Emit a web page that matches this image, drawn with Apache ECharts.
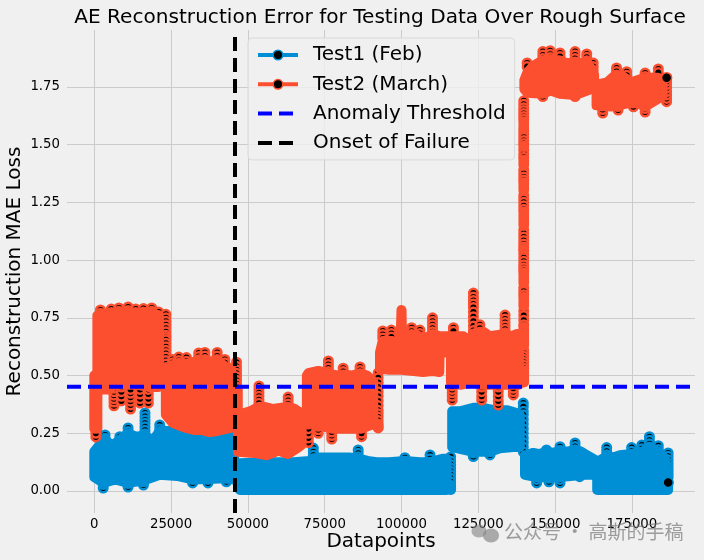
<!DOCTYPE html>
<html><head><meta charset="utf-8">
<style>html,body{margin:0;padding:0;background:#f0f0f0}#c{width:704px;height:560px}</style>
<script src="https://cdn.jsdelivr.net/npm/echarts@6/dist/echarts.min.js"></script>
</head><body><div id="c"></div>
<script>
const titleText = 'AE Reconstruction Error for Testing Data Over Rough Surface';
const xName = 'Datapoints', yName = 'Reconstruction MAE Loss';
const xTicks = [0,25000,50000,75000,100000,125000,150000,175000];
const yTicks = [0,0.25,0.5,0.75,1,1.25,1.5,1.75];
const threshold = 0.4517, onset = 45800;
const test1End = [186800,0.037], test2End = [186300,1.79];

// Solid part of each error band, [x, value]; null starts a new block
const test1Top = [[0,.17],[1800,.2],[3500,.225],[5600,.195],[8300,.22],[11000,.25],[13600,.235],[16500,.24],[19000,.215],[21300,.26],[25000,.26],[35000,.26],[45500,.26],null,
 [47400,.12],[55000,.125],[65000,.125],[70000,.13],[71300,.14],[73000,.145],[79000,.145],[83000,.145],[85900,.14],[89000,.13],[91900,.125],[96000,.125],[101100,.13],[106000,.125],[109300,.125],[113600,.14],[114700,.14],null,
 [115900,.02],[116100,.02],null,
 [116500,.345],[119000,.345],[123380,.36],[126600,.36],[130000,.35],[134200,.35],[137000,.34],[138500,.33],null,
 [140200,.155],[142900,.165],[145000,.16],[147200,.17],[149500,.165],[151600,.175],[154000,.17],[156500,.18],[158500,.17],[160300,.155],[163000,.135],null,
 [163700,.125],[166800,.15],[169000,.145],[171100,.155],[174900,.16],[178200,.17],[180700,.185],[183600,.17],[185800,.14],[186800,.02]];
const test1Bottom = [[0,.06],[2900,.035],[6800,.05],[11000,.035],[16000,.045],[21300,.07],[27000,.065],[32000,.05],[43000,.055],[45500,.05],null,
 [47400,.004],[114700,.004],null,
 [115900,.004],[116100,.004],null,
 [116500,.19],[123380,.17],[128800,.17],[132000,.185],[136400,.19],[138500,.19],null,
 [140200,.07],[144000,.06],[151600,.06],[159200,.07],[163000,.07],null,
 [163700,.004],[186800,.004]];
const test2Top = [[0,.5],[1000,.5],null,
 [1000,.76],[2500,.765],[5500,.77],[8000,.775],[11000,.775],[13500,.77],[16000,.77],[18700,.775],[21000,.755],null,
 [23300,.53],[25500,.545],[27500,.555],[30000,.55],[32500,.56],[34000,.565],[36000,.565],[38000,.56],[40000,.565],[42500,.54],[44500,.53],[45000,.44],[46700,.44],null,
 [46780,.33],[50700,.345],[53600,.365],[55000,.365],[58300,.355],[60450,.36],[63100,.365],[65300,.355],[67500,.335],null,
 [69200,.5],[69700,.51],[72900,.52],[76200,.51],[78900,.5],[81000,.505],[83800,.5],[86500,.51],[88700,.5],[90800,.475],null,
 [92300,.285],[92500,.285],null,
 [93000,.6],[93900,.65],[96700,.65],[98400,.645],[99700,.65],[100000,.784],[100200,.65],[103300,.68],[106000,.67],[107600,.66],[110100,.68],[112500,.67],[116100,.67],null,
 [116100,.665],[116900,.67],[118500,.67],[120100,.67],[121750,.65],[123400,.68],[125500,.69],[126600,.69],[128800,.67],[131000,.675],[133700,.68],[135850,.67],[137500,.68],[138200,.68],null,
 [139700,1.6],[139900,1.6],null,[139700,1.495],[139900,1.495],null,[139700,1.435],[139900,1.435],null,[139700,1.337],[139900,1.337],null,[139700,1.21],[139900,1.21],null,
 [139700,1.048],[139900,1.048],null,[139700,.945],[139900,.945],null,[139700,.84],[139900,.84],null,[139700,.71],[139900,.71],null,[139700,.522],[139900,.522],null,
 [140000,1.78],[140900,1.81],[142800,1.84],[146000,1.865],[148400,1.87],[151600,1.865],[154300,1.85],[156500,1.86],[158600,1.85],[160300,1.86],[162400,1.81],[162700,1.8],null,
 [163500,1.76],[167000,1.77],[169500,1.8],[172000,1.795],[175000,1.77],[178000,1.785],[181000,1.79],[183500,1.79],[185000,1.76]];
const test2Bottom = [[0,.27],[1000,.27],null,
 [1000,.44],[5000,.44],[6500,.46],[11000,.46],[14000,.46],[18000,.45],[20000,.45],[21000,.45],null,
 [23300,.33],[25500,.295],[27500,.285],[30000,.273],[32500,.264],[35000,.264],[37500,.255],[40000,.26],[42500,.268],[44500,.273],[46700,.35],null,
 [46780,.17],[52000,.165],[56000,.155],[60000,.175],[63000,.16],[66000,.185],[67500,.2],null,
 [69200,.3],[72900,.285],[77300,.27],[82000,.27],[87000,.27],[90800,.29],null,
 [92300,.275],[92500,.275],null,
 [93000,.53],[96000,.525],[100000,.525],[104000,.52],[107000,.515],[110000,.52],[112300,.515],[112400,.6],[116100,.6],null,
 [116100,.47],[119000,.46],[123000,.47],[126000,.46],[131000,.46],[136000,.46],[138200,.46],null,
 [139700,1.57],[139900,1.57],null,[139700,1.49],[139900,1.49],null,[139700,1.41],[139900,1.41],null,[139700,1.3],[139900,1.3],null,[139700,1.15],[139900,1.15],null,
 [139700,1.047],[139900,1.047],null,[139700,.9],[139900,.9],null,[139700,.8],[139900,.8],null,[139700,.63],[139900,.63],null,[139700,.47],[139900,.47],null,
 [140000,1.74],[141000,1.725],[146000,1.72],[148400,1.735],[151600,1.72],[156500,1.715],[161500,1.74],[162700,1.74],null,
 [163500,1.67],[168000,1.665],[172000,1.675],[176000,1.685],[179300,1.665],[183000,1.695],[185000,1.71]];

// Readable runs of points at the rims of the bands, [x, [values in drawing order]]
const test1Runs = [[2900,[.013,.028]],[3500,[.243,.228,.213]],[8300,[.235,.22,.205]],[11000,[.017,.032]],[11000,[.273,.258,.243]],
 [16000,[.026,.04]],[16500,[.338,.323,.308,.293,.278,.263,.248,.233]],[21300,[.286,.27,.255]],[32000,[.035,.05]],[37000,[.035,.05]],[43000,[.04,.055]],
 [71300,[.186,.17,.155,.14]],[85900,[.178,.163,.148,.133]],[101100,[.144,.13]],[109300,[.156,.14,.125]],
 [116000,[.148,.13,.115,.1,.085,.07,.055,.04,.025,.01]],[123380,[.149,.165]],[128800,[.156,.17]],[139650,[.381,.365,.345,.33,.31,.29,.27,.25,.23,.21,.19,.17]],
 [144000,[.035,.05]],[147200,[.178,.163,.148]],[148000,[.04,.055]],[151600,[.035,.05]],[151600,[.192,.177,.162,.147]],[156500,[.208,.193,.178,.163,.148]],[158000,[.062,.078]],
 [166800,[.188,.172,.157,.142,.127]],[174900,[.188,.172,.157,.142]],[178200,[.199,.183,.168,.153]],[180700,[.235,.22,.205,.19,.175,.16,.145]],[183600,[.196,.18,.165,.15]],
 [186800,[.165,.15,.135,.12,.105,.09,.075,.06]]];
const test2Runs = [[500,[.5,.49,.47]],[500,[.234,.25]],[2000,[.784,.77]],[5500,[.788,.773]],[6400,[.369,.385,.4,.415,.43,.445]],[8000,[.793,.778]],[8800,[.39,.41,.43,.45]],[11000,[.797,.782]],[11800,[.355,.372,.389,.406,.423,.44]],
 [13500,[.788,.773]],[14900,[.381,.4,.42,.44]],[16000,[.79,.775]],[17600,[.381,.4,.42,.44]],[18700,[.793,.778]],[21000,[.775,.76]],
 [23300,[.765,.75,.735,.72,.705,.69,.675,.665,.655,.64,.625,.61,.595,.58,.565,.55,.535]],[25500,[.57,.555]],[27500,[.58,.565]],[30000,[.578,.562]],[34000,[.598,.583,.568]],[36000,[.6,.585,.57]],[40000,[.6,.585,.57]],[42500,[.57,.555]],
 [46300,[.558,.54,.525,.51,.495,.48,.465,.45]],[53600,[.455,.44,.425,.41,.395,.38]],[63100,[.407,.392,.377]],[69700,[.21,.23,.25,.27,.29,.31]],[72900,[.25,.265,.28]],[76200,[.563,.548,.533,.518,.503]],[77300,[.225,.24,.255]],
 [81000,[.532,.517]],[86500,[.537,.522,.507]],[87000,[.235,.25]],[92400,[.511,.49,.47,.45,.43,.41,.39,.37,.35,.335,.32,.305,.29,.273]],
 [93900,[.693,.678,.663]],[96700,[.697,.682,.667]],[103300,[.707,.692]],[106000,[.697,.682]],[110100,[.75,.735,.72,.705,.69,.675]],
 [116500,[.394,.41,.425,.44,.455]],[116900,[.707,.692]],[123400,[.857,.84,.825,.81,.795,.775,.755,.735,.715,.695,.68]],[125500,[.72,.705]],[126100,[.394,.41,.43,.45]],[131500,[.372,.39,.41,.43,.45]],[133700,[.762,.745,.73,.715,.7,.685]],[136400,[.416,.43,.445]],
 [139800,[1.69,1.675,1.66,1.648,1.635,1.622,1.61]],[139800,[1.56,1.546,1.532,1.518,1.505]],[139800,[1.477,1.46,1.445]],[139800,[1.39,1.375,1.36,1.347]],[139800,[1.28,1.265,1.25,1.235,1.22]],
 [139800,[1.13,1.115,1.1,1.085,1.07,1.057]],[139800,[1.04,1.025,1.01,.995,.98,.967,.955]],[139800,[.88,.865,.85]],[139800,[.78,.76,.74,.72]],[139800,[.61,.597,.584,.571,.558,.545,.532]],
 [140900,[1.854,1.838]],[146000,[1.903,1.888,1.873]],[146000,[1.708,1.725]],[148400,[1.907,1.892,1.877]],[151600,[1.897,1.882]],[156500,[1.903,1.888,1.873]],[156500,[1.708,1.725]],[160300,[1.893,1.878,1.863]],[162400,[1.854,1.838,1.822,1.806]],
 [165500,[1.637,1.652,1.667]],[170000,[1.832,1.817,1.802]],[170500,[1.65,1.665]],[173300,[1.816,1.8]],[175500,[1.664,1.68]],[179300,[1.81,1.795]],[179300,[1.641,1.656,1.671]],[183600,[1.828,1.812]],
 [186300,[1.686,1.7,1.715,1.73,1.745,1.76,1.775]]];

const blue = '#008fd5', red = '#fc4f30', bg = '#f0f0f0', gridCol = '#cbcbcb';
const fam = '"DejaVu Sans"';
const xMin = -8887, xMax = 195540, yMin = -0.0953, yMax = 1.9965;

function points(runs){ const out=[]; runs.forEach(r=>{ r[1].forEach(v=>out.push([r[0],v])); out.push([r[0],null]); }); return out; }
function blocks(top,bottom){
  const split=a=>{const o=[[]];a.forEach(p=>{ if(p===null)o.push([]); else o[o.length-1].push(p); });return o;};
  const t=split(top), b=split(bottom);
  return t.map((tt,i)=>tt.concat(b[i].slice().reverse()));
}
function bandSeries(name,top,bottom,color,z){
  const bl=blocks(top,bottom);
  return {name,type:'custom',z,silent:true,coordinateSystem:'cartesian2d',data:bl.map((_,i)=>[i,0]),
    renderItem:(p,api)=>({type:'polygon',shape:{points:bl[api.value(0)].map(q=>api.coord(q))},
      style:{fill:color,stroke:color,lineWidth:10,lineJoin:'round'}})};
}
function pointSeries(name,runs,color,z){
  return {name,type:'line',z,data:points(runs),showSymbol:true,showAllSymbol:true,symbol:'circle',symbolSize:8.5,
    connectNulls:false,silent:true,animation:false,
    lineStyle:{color,width:4},itemStyle:{color:'#000',borderColor:color,borderWidth:2.5},emphasis:{disabled:true}};
}
function endSeries(name,pt,color,z){
  return {name,type:'scatter',z,data:[pt],symbol:'circle',symbolSize:10,silent:true,itemStyle:{color:'#000',borderColor:color,borderWidth:1.5,opacity:1}};
}
const chart = echarts.init(document.getElementById('c'),null,{renderer:'canvas'});
chart.setOption({
  animation:false,backgroundColor:bg,
  textStyle:{fontFamily:fam},
  title:{text:titleText,left:375,top:3,textAlign:'center',textStyle:{fontFamily:fam,fontSize:20.1,fontWeight:'normal',color:'#000'}},
  grid:{left:67,right:9,top:30,bottom:47,containLabel:false,outerBoundsMode:'none'},
  xAxis:{type:'value',min:xMin,max:xMax,name:xName,nameLocation:'middle',nameGap:29,nameMoveOverlap:false,nameTextStyle:{fontFamily:fam,fontSize:20,color:'#000',verticalAlign:'middle'},
    axisLine:{show:false},axisTick:{show:false,customValues:xTicks},
    axisLabel:{customValues:xTicks,fontFamily:fam,fontSize:13.3,color:'#000',margin:5,formatter:v=>String(v)},
    splitLine:{show:true,lineStyle:{color:gridCol,width:1}}},
  yAxis:{type:'value',min:yMin,max:yMax,name:yName,nameLocation:'middle',nameGap:52,nameMoveOverlap:false,nameRotate:90,nameTextStyle:{fontFamily:fam,fontSize:20,color:'#000',verticalAlign:'middle'},
    axisLine:{show:false},axisTick:{show:false,customValues:yTicks},
    axisLabel:{customValues:yTicks,fontFamily:fam,fontSize:13.3,color:'#000',margin:7,formatter:v=>v.toFixed(2)},
    splitLine:{show:true,lineStyle:{color:gridCol,width:1}}},
  legend:{orient:'vertical',left:248,top:38,z:20,
    data:[{name:'Test1 (Feb)',itemStyle:{borderWidth:1.5}},{name:'Test2 (March)',itemStyle:{borderWidth:1.5}},
      {name:'Anomaly Threshold',itemStyle:{color:'transparent',borderColor:'transparent',borderWidth:0},lineStyle:{color:'#0000ff',width:4,type:[14,7]}},
      {name:'Onset of Failure',itemStyle:{color:'transparent',borderColor:'transparent',borderWidth:0},lineStyle:{color:'#000',width:4,type:[14,7]}}],
    itemWidth:40,itemHeight:12,itemGap:9.3,padding:[7,9,7,8],
    lineStyle:{width:4},
    backgroundColor:'rgba(240,240,240,0.8)',borderColor:'#d9d9d9',borderWidth:1,borderRadius:4,
    textStyle:{fontFamily:fam,fontSize:20,color:'#000',padding:[0,0,0,10]},selectedMode:false},
  series:[
    pointSeries('Test1 (Feb)',test1Runs,blue,2),
    bandSeries('t1band',test1Top,test1Bottom,blue,3),
    endSeries('t1end',test1End,blue,4),
    pointSeries('Test2 (March)',test2Runs,red,5),
    bandSeries('t2band',test2Top,test2Bottom,red,6),
    endSeries('t2end',test2End,red,7),
    {name:'Anomaly Threshold',type:'line',z:8,symbol:'none',silent:true,data:[[xMin,threshold],[xMax,threshold]],lineStyle:{color:'#0000ff',width:4,type:[14,7]}},
    {name:'Onset of Failure',type:'line',z:9,symbol:'none',silent:true,data:[[onset,yMin],[onset,yMax]],lineStyle:{color:'#000',width:4,type:[14,7]}}
  ],
  graphic:[
    {type:'ellipse',shape:{cx:479,cy:531,rx:7.5,ry:6.5},style:{fill:'rgba(130,130,130,0.6)'},z:30},
    {type:'ellipse',shape:{cx:491,cy:535.5,rx:8,ry:7},style:{fill:'rgba(130,130,130,0.65)'},z:30},
    {type:'text',x:504,y:522,z:30,style:{text:'公众号 · 高斯的手稿',font:'19px "Noto Sans CJK SC"',fill:'rgba(120,120,120,0.7)'}}
  ]
});
</script></body></html>
